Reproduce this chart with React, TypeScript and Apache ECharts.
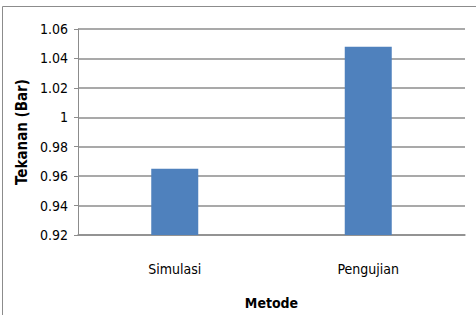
import React, { useEffect, useRef } from "react";
import * as echarts from "echarts";

const categories = ["Simulasi", "Pengujian"];
const values = [0.965, 1.048];
const yMin = 0.92;
const yMax = 1.06;
const yInterval = 0.02;

export default function App() {
  const ref = useRef<HTMLDivElement>(null);
  useEffect(() => {
    document.body.style.margin = "0";
    const chart = echarts.init(ref.current!, null, { renderer: "svg" });
    const labelFont = "'DejaVu Sans Condensed', 'Liberation Sans Narrow', sans-serif";
    chart.setOption({
      animation: false,
      backgroundColor: "#ffffff",
      graphic: [
        {
          type: "rect",
          shape: { x: 2.5, y: 6.5, width: 480, height: 320 },
          style: { fill: "none", stroke: "#8c8c8c", lineWidth: 1 },
          silent: true,
        },
      ],
      grid: { left: 78, right: 11, top: 29, bottom: 79 },
      xAxis: {
        type: "category",
        data: categories,
        name: "Metode",
        nameLocation: "middle",
        nameGap: 61,
        nameTextStyle: { fontFamily: labelFont, fontWeight: "bold", fontSize: 14, color: "#000" },
        axisLine: { lineStyle: { color: "#8c8c8c", width: 1.5 } },
        axisTick: { show: false },
        axisLabel: { fontFamily: labelFont, fontSize: 14, color: "#000", margin: 27 },
      },
      yAxis: {
        type: "value",
        min: yMin,
        max: yMax,
        interval: yInterval,
        name: "Tekanan (Bar)",
        nameLocation: "middle",
        nameGap: 49,
        nameTextStyle: { fontFamily: labelFont, fontWeight: "bold", fontSize: 15, color: "#000" },
        axisLine: { show: true, lineStyle: { color: "#8c8c8c", width: 1 } },
        axisTick: { show: true, length: 4, lineStyle: { color: "#8c8c8c" } },
        axisLabel: {
          fontFamily: labelFont,
          fontSize: 14,
          color: "#000",
          margin: 10,
          formatter: (v: number) => String(parseFloat(v.toFixed(2))),
        },
        splitLine: { lineStyle: { color: "#8c8c8c", width: 1.5 } },
      },
      series: [
        {
          type: "bar",
          data: values,
          barWidth: 47,
          itemStyle: { color: "#4F81BD" },
        },
      ],
    });
    return () => chart.dispose();
  }, []);
  return <div ref={ref} style={{ width: 476, height: 315 }} />;
}
